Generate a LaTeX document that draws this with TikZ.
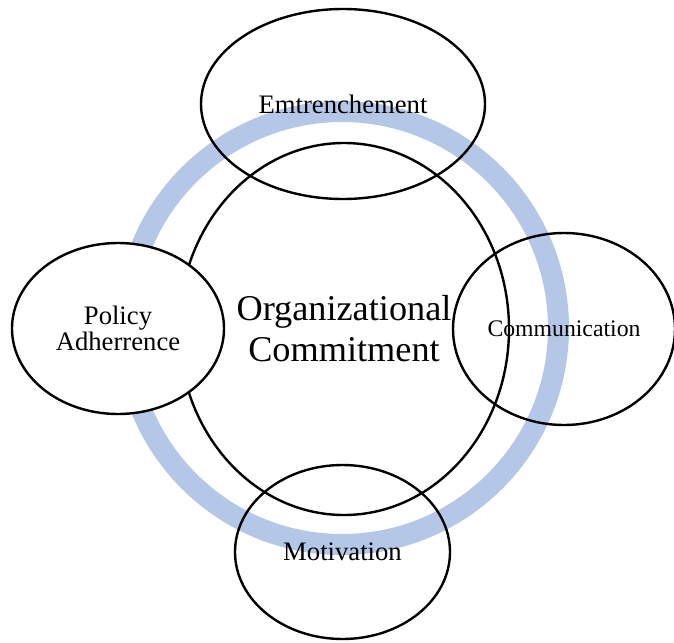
\documentclass[tikz,border=0pt]{standalone}
\usepackage{fontspec}
\setmainfont{Liberation Serif}
\usetikzlibrary{shapes.geometric}
\begin{document}
\begin{tikzpicture}[x=0.75pt,y=0.75pt,yscale=-1,xscale=1,
  bubble/.style={ellipse,draw,line width=1.8pt,inner sep=0pt,align=center,font=\fontsize{20}{20}\selectfont},
  ring/.style={color={rgb, 255:red, 180; green, 199; blue, 231 },draw opacity=1,line width=15.75pt}]
\useasboundingbox (0,0) rectangle (674,642);

\draw [ring] (342,328) circle (216.5) ;

\node [bubble,minimum width=247.5pt,minimum height=279pt,font=\fontsize{27.2}{30.8}\selectfont] (commit) at (344,329) {Organizational\\Commitment};

\node [bubble,minimum width=213pt,minimum height=142.5pt] (entrench) at (343,104) {Emtrenchement};

\node [bubble,minimum width=166.5pt,minimum height=144pt,font=\fontsize{17.8}{18}\selectfont] (comm) at (564,329) {Communication};

\node [bubble,minimum width=161.25pt,minimum height=130.5pt] (motiv) at (342.5,552) {Motivation};

\node [bubble,fill=white,minimum width=159pt,minimum height=128.25pt] (policy) at (118,328.5) {Policy\\Adherrence};
\end{tikzpicture}
\end{document}
